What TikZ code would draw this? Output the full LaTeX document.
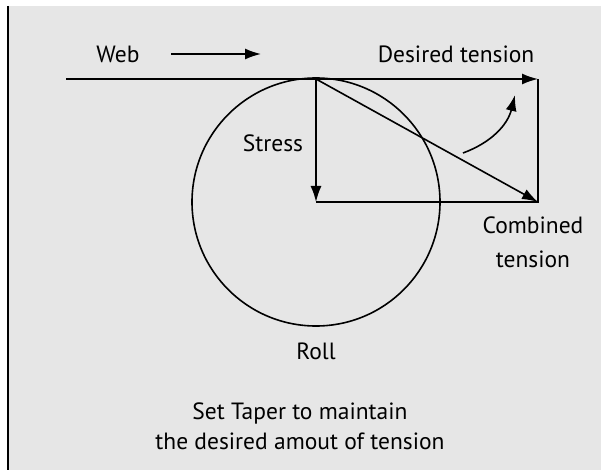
\documentclass[tikz,border=0pt]{standalone}
\usepackage{fontspec}
\setmainfont{PT Sans}
\usetikzlibrary{arrows.meta}
\definecolor{panel}{RGB}{230,230,230}
\tikzstyle{txt}=[inner sep=0pt,font=\fontsize{23.5}{30}\selectfont,align=center]
\tikzstyle{vec}=[-{Latex[length=16pt,width=11pt]}]

\begin{document}
\begin{tikzpicture}[x=1pt,y=-1pt,line width=1.6pt]
	\useasboundingbox (0,0) rectangle (601,470);
	\fill[panel] (8,6) rectangle (601,470);
	\draw[line width=1.8pt] (8,6) -- (8,470);
	\coordinate (start) at (66,79);
	\coordinate (touch) at (316,79);
	\coordinate (axis) at (316,202);
	\coordinate (goal) at (538,79);
	\coordinate (result) at (538,202);
	\coordinate (webtail) at (171,54);
	\coordinate (webhead) at (261,54);
	\coordinate (turnfrom) at (463,153);
	\coordinate (turnto) at (515,95);
	\draw (axis) circle (124);
	\draw[vec] (start) -- (goal);
	\draw[vec] (webtail) -- (webhead);
	\draw[vec] (touch) -- (axis);
	\draw (axis) -- (result) -- (goal);
	\draw[vec] (touch) -- (result);
	\draw[vec] (turnfrom) to[bend right=28] (turnto);
	\node[txt] (web) at (118,54) {Web};
	\node[txt] (desired) at (456,54) {Desired tension};
	\node[txt] (stress) at (273,143) {Stress};
	\node[txt,font=\fontsize{23.5}{34}\selectfont] (combined) at (533,242) {Combined\\tension};
	\node[txt] (roll) at (316,351) {Roll};
	\node[txt] (note) at (300,426) {Set Taper to maintain\\the desired amout of tension};
\end{tikzpicture}
\end{document}
